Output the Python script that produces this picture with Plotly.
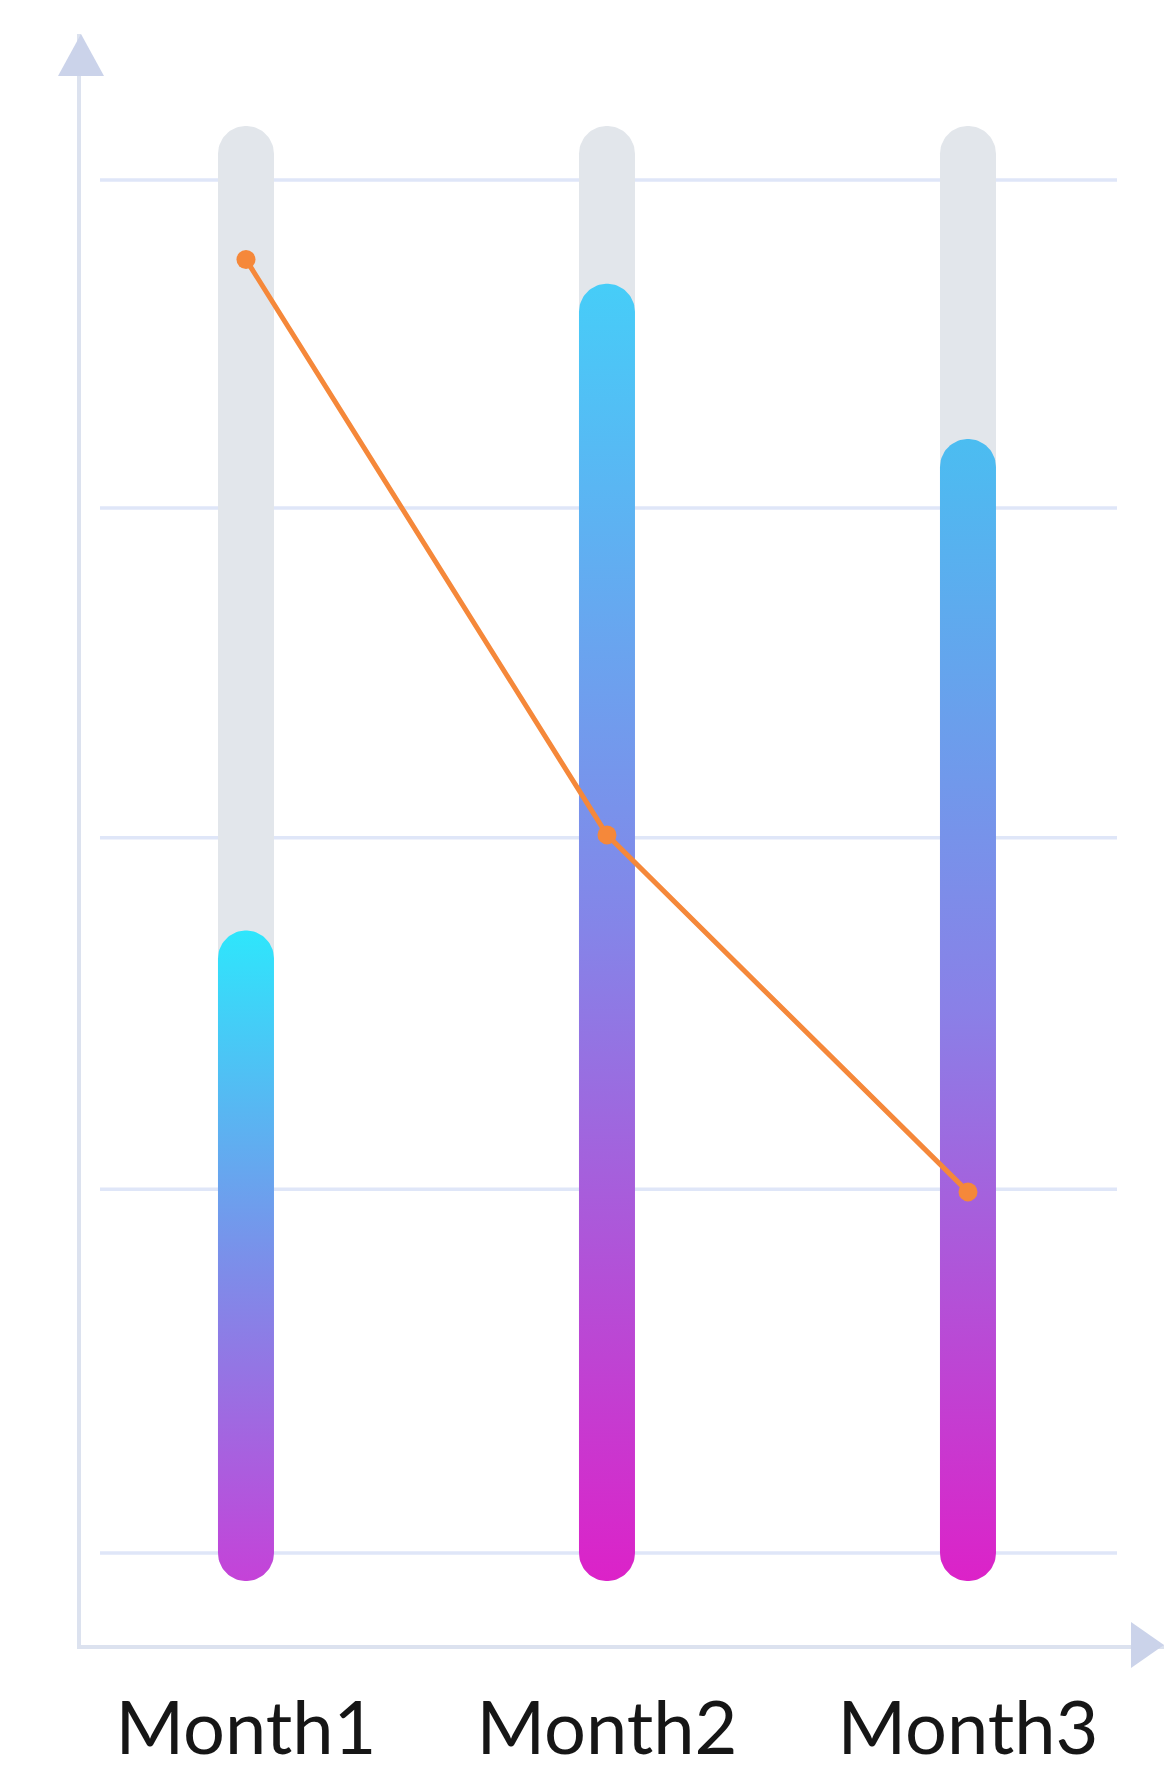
import numpy as np
import plotly.graph_objects as go

# ---- data ----
categories = ["Month1", "Month2", "Month3"]
bar_values = [43.3, 90.4, 79.1]          # coloured bar level (cap centre)
bar_max = [101.9, 101.9, 101.9]          # grey track level (cap centre)
line_values = [94.2, 52.3, 26.3]         # orange line
grid_values = [0, 26.5, 52.1, 76.1, 100]  # horizontal guide lines

# ---- styles ----
bar_bottom_colors = ["#c542d8", "#dc22c8", "#dc22c8"]
bar_mid_colors = ["#7a90ea", "#8584e8", "#8a80e7"]
bar_top_colors = ["#2ee6fc", "#46cdf8", "#4bbdf1"]
track_color = "#e2e6eb"
line_color = "#f5883a"
axis_color = "#dce2ef"
arrow_color = "#cbd3ea"
grid_color = "#dfe6f8"

W, H = 1164, 1769
ML, MR, MT, MB = 81, 0, 34, 124
PW = W - ML - MR
PH = H - MT - MB
X_RANGE = [-0.457, 2.543]
Y_RANGE = [-6.70, 110.63]
px_x = PW / (X_RANGE[1] - X_RANGE[0])
px_y = PH / (Y_RANGE[1] - Y_RANGE[0])
BAR_W_PX = 56
rx = BAR_W_PX / 2 / px_x
ry = BAR_W_PX / 2 / px_y


def pill(xc, y0, y1, n=40):
    t = np.linspace(0, np.pi, n)
    xs_top = xc + rx * np.cos(t)
    ys_top = y1 + ry * np.sin(t)
    xs_bot = xc - rx * np.cos(t)
    ys_bot = y0 - ry * np.sin(t)
    xs = np.concatenate([xs_top, xs_bot, xs_top[:1]])
    ys = np.concatenate([ys_top, ys_bot, ys_top[:1]])
    return xs, ys


fig = go.Figure()

xpos = list(range(len(categories)))

# grey tracks
for i, (xc, m) in enumerate(zip(xpos, bar_max)):
    xs, ys = pill(xc, 0, m)
    fig.add_trace(go.Scatter(x=xs, y=ys, mode="lines", fill="toself",
                             fillcolor=track_color, line=dict(width=0),
                             hoverinfo="skip", showlegend=False))

# gradient bars
for i, (xc, v) in enumerate(zip(xpos, bar_values)):
    xs, ys = pill(xc, 0, v)
    fig.add_trace(go.Scatter(
        x=xs, y=ys, mode="lines", fill="toself",
        line=dict(width=0),
        fillgradient=dict(type="vertical",
                          colorscale=[[0, bar_bottom_colors[i]],
                                      [0.5, bar_mid_colors[i]],
                                      [1, bar_top_colors[i]]],
                          start=0 - ry, stop=v + ry),
        hoverinfo="skip", showlegend=False))

# orange line
fig.add_trace(go.Scatter(x=xpos, y=line_values, mode="lines+markers",
                         line=dict(color=line_color, width=5),
                         marker=dict(color=line_color, size=19),
                         showlegend=False))

shapes = []
for g in grid_values:
    shapes.append(dict(type="line", xref="paper", yref="y",
                       x0=(100 - ML) / PW, x1=(1117 - ML) / PW, y0=g, y1=g,
                       line=dict(color=grid_color, width=3.5), layer="below"))

# axis arrow heads
ah = 42 / PH
aw = 23 / PW
shapes.append(dict(type="path", xref="paper", yref="paper",
                   path=f"M {-aw} {1 - ah} L 0 1 L {aw} {1 - ah} Z",
                   fillcolor=arrow_color, line=dict(width=0), layer="above"))
bh = 33 / PW
bw = 23 / PH
shapes.append(dict(type="path", xref="paper", yref="paper",
                   path=f"M {1 - bh} {-bw} L 1 0 L {1 - bh} {bw} Z",
                   fillcolor=arrow_color, line=dict(width=0), layer="above"))

fig.update_layout(
    width=W, height=H,
    margin=dict(l=ML, r=MR, t=MT, b=MB, pad=0),
    paper_bgcolor="white", plot_bgcolor="white",
    shapes=shapes,
    xaxis=dict(range=X_RANGE, tickvals=xpos, ticktext=categories,
               showgrid=False, zeroline=False, ticks="",
               ticklabelstandoff=16,
               showline=True, linecolor=axis_color, linewidth=4,
               tickfont=dict(family="Lato", size=74, color="#161616")),
    yaxis=dict(range=Y_RANGE, showgrid=False, zeroline=False,
               showticklabels=False, ticks="",
               showline=True, linecolor=axis_color, linewidth=4),
)

fig.write_html("out.html")
